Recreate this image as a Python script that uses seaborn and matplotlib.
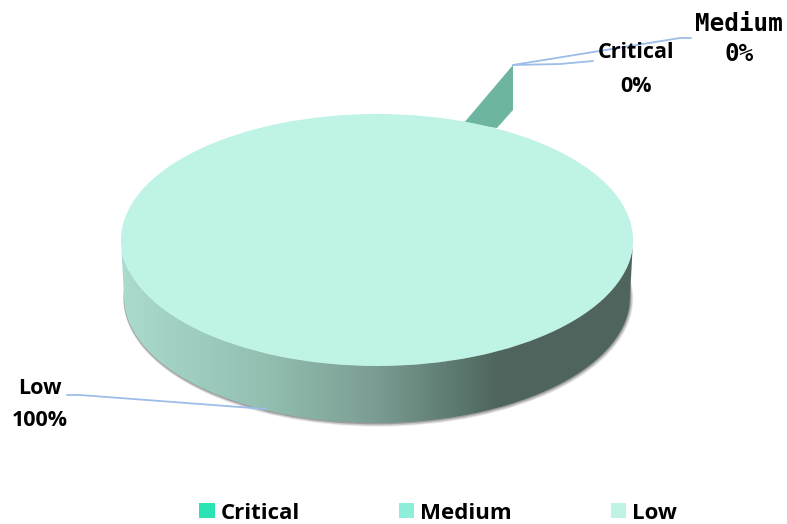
import numpy as np
import matplotlib
matplotlib.use("Agg")
import matplotlib.pyplot as plt
import seaborn as sns
from matplotlib.colors import LinearSegmentedColormap
from matplotlib.patches import Ellipse, PathPatch, Polygon
from matplotlib.path import Path

categories = ["Critical", "Medium", "Low"]
values = [0, 0, 100]
palette = ["#2BE4B6", "#8DEFD9", "#BEF3E6"]

sns.set_theme(style="white")
plt.rcParams["font.family"] = ["Open Sans", "DejaVu Sans"]

W, H = 787, 524
fig = plt.figure(figsize=(W / 100, H / 100), dpi=100, facecolor="white")
base = fig.add_axes([0, 0, 1, 1])
base.set_xlim(0, W)
base.set_ylim(H, 0)
base.axis("off")

# Layout of the fake 3-D disc, in pixels
cx, cy, rx, ry = 377, 240, 256, 126
depth = 57
rx_low = 253

# Soft shadow under the rim
for off, a in [(4, .12), (3, .22), (1.5, .38)]:
    base.add_patch(Ellipse((cx + off * .3, cy + depth + off * .4), 2 * rx_low + off, 2 * ry + off,
                           fc="#555555", ec="none", alpha=a, zorder=1))

# Rim with a horizontal gradient
t = np.linspace(np.pi, 0, 120)
top = np.c_[cx + rx * np.cos(t), cy + ry * np.sin(t)]
low = np.c_[cx + rx_low * np.cos(t), cy + depth + ry * np.sin(t)][::-1]
rim = np.vstack([top, low, top[:1]])
clip = PathPatch(Path(rim), fc="none", ec="none", transform=base.transData)
base.add_patch(clip)
cmap = LinearSegmentedColormap.from_list(
    "rim", [(0, "#AADBCE"), (.28, "#93BFB1"), (.5, "#7A9C92"), (.68, "#58736A"), (.74, "#4E645C"), (1, "#4E645C")])
img = base.imshow(np.linspace(0, 1, 256)[None, :], cmap=cmap, aspect="auto",
                  extent=[cx - rx, cx + rx, cy + depth + ry, cy - ry], zorder=2)
img.set_clip_path(clip)
base.set_xlim(0, W)
base.set_ylim(H, 0)

# Exploded sliver of the zero-valued slices
base.add_patch(Polygon([(513, 65), (513, 110), (497, 128), (463, 124)], fc="#6DB5A1", ec="none", zorder=2))

# Leader lines
lc = "#9DBDE8"
base.plot([513, 680, 691], [65, 38, 38], color=lc, lw=1.3, zorder=3)
base.plot([513, 560, 593], [65, 64, 61], color=lc, lw=1.3, zorder=3)
base.plot([67, 80, 266], [395, 395, 409], color=lc, lw=1.3, zorder=3)

# Top face: the pie itself
pie_ax = fig.add_axes([(cx - rx) / W, 1 - (cy + ry) / H, 2 * rx / W, 2 * ry / H], zorder=2)
wedges, _ = pie_ax.pie(values, colors=palette, radius=1, startangle=90, counterclock=False,
                       wedgeprops={"linewidth": 0})
pie_ax.set_aspect("auto")
pie_ax.set_xlim(-1, 1)
pie_ax.set_ylim(-1, 1)
pie_ax.patch.set_alpha(0)

# Data labels
txt = fig.add_axes([0, 0, 1, 1], zorder=3)
txt.set_xlim(0, W)
txt.set_ylim(H, 0)
txt.axis("off")
positions = {"Critical": (636, 53, 86), "Medium": (739, 24, 54), "Low": (40, 389, 420)}
for name, val in zip(categories, values):
    x, y1, y2 = positions[name]
    fam = "DejaVu Sans Mono" if name == "Medium" else "Open Sans"
    size = 17.5 if name == "Medium" else 15.5
    for y, s in ((y1, name), (y2, f"{val}%")):
        txt.text(x, y, s, ha="center", va="center", fontsize=size,
                 fontweight="bold", family=fam, color="black", zorder=5)

# Legend
txt.legend(wedges, categories, ncol=3, loc="lower left", bbox_to_anchor=(195 / W, -4 / H),
           frameon=False, prop={"family": "Open Sans", "weight": "bold", "size": 16},
           handlelength=.68, handleheight=.68, handletextpad=.28, columnspacing=4.45,
           borderpad=.2, borderaxespad=0, labelcolor="black")

fig.savefig("out.png", dpi=100, facecolor="white")
